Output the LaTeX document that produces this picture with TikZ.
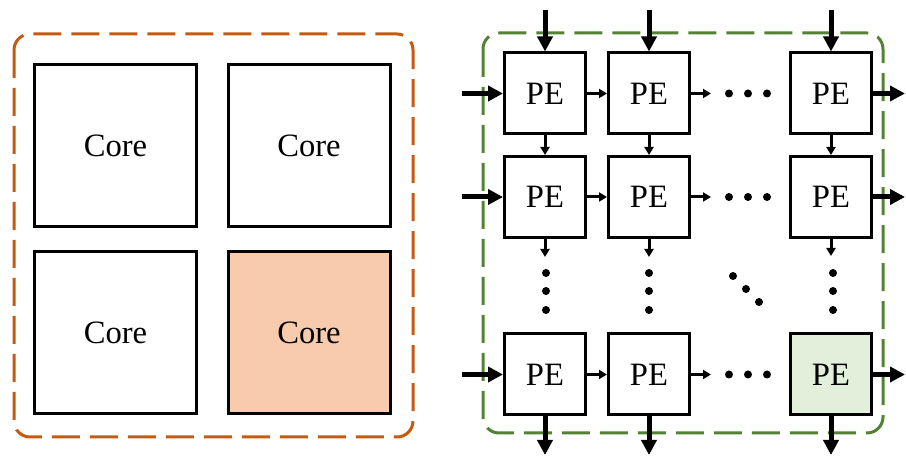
\documentclass[tikz,border=0pt]{standalone}
\usepackage{fontspec}
\setmainfont{Liberation Serif}
\usetikzlibrary{arrows.meta}

\definecolor{chiporange}{HTML}{C55A11}
\definecolor{arraygreen}{HTML}{548235}
\definecolor{corefill}{HTML}{F8CBAD}
\definecolor{pefill}{HTML}{E2EFDA}

\begin{document}
\begin{tikzpicture}[
  x=0.5pt, y=-0.5pt,
  % Processor cores (big squares, left)
  core/.style={rectangle, draw=black, line width=1.5pt, fill=#1,
               minimum size=81pt, inner sep=0pt,
               font=\fontsize{16.3}{19}\selectfont},
  core/.default=white,
  % Processing elements of the array (right)
  pe/.style={rectangle, draw=black, line width=1.5pt, fill=#1,
             minimum size=40.5pt, inner sep=0pt,
             font=\fontsize{16.3}{19}\selectfont},
  pe/.default=white,
  % Outer dashed frames
  frame/.style={draw=#1, line width=1.5pt, dash pattern=on 14pt off 5pt,
                rounded corners=8pt},
  arrow/.style={-{Triangle[length=4pt, width=4.5pt]}, line width=1.5pt},
  bigarrow/.style={-{Triangle[length=7.5pt, width=7.5pt]}, line width=2.5pt},
  dot/.style={fill=black}
]
\useasboundingbox (0,0) rectangle (906,458);

%% -- Left: multi-core chip ------------------------------------
\draw[frame=chiporange] (14,34) rectangle (413,437);

\node[core]          (c11) at (115.5,146) {Core};
\node[core]          (c12) at (309,146)   {Core};
\node[core]          (c21) at (115.5,333) {Core};
\node[core=corefill] (c22) at (309,333)   {Core};

%% -- Right: systolic array of PEs -----------------------------
\draw[frame=arraygreen] (483,33) rectangle (883,433);

% row 1
\node[pe] (p11) at (545,93.5) {PE};
\node[pe] (p12) at (649,93.5) {PE};
\node[pe] (p14) at (831,93.5) {PE};
% row 2
\node[pe] (p21) at (545,197) {PE};
\node[pe] (p22) at (649,197) {PE};
\node[pe] (p24) at (831,197) {PE};
% last row
\node[pe]        (p41) at (545,374.5) {PE};
\node[pe]        (p42) at (649,374.5) {PE};
\node[pe=pefill] (p44) at (831,374.5) {PE};

% free ends of the connectors
\coordinate (in1) at (545,10);
\coordinate (in2) at (649,10);
\coordinate (in4) at (831,10);
\coordinate (w1) at (462,93.5);
\coordinate (w2) at (462,197);
\coordinate (w4) at (462,374.5);
\coordinate (e1) at (905,93.5);
\coordinate (e2) at (905,197);
\coordinate (e4) at (905,374.5);
\coordinate (out1) at (545,455);
\coordinate (out2) at (649,455);
\coordinate (out4) at (831,455);
\coordinate (h1) at (711,93.5);
\coordinate (h2) at (711,197);
\coordinate (h4) at (711,374.5);
\coordinate (v1) at (545,257);
\coordinate (v2) at (649,257);
\coordinate (v4) at (831,256);

% inputs / outputs
\draw[bigarrow] (in1) -- (p11);
\draw[bigarrow] (in2) -- (p12);
\draw[bigarrow] (in4) -- (p14);
\draw[bigarrow] (w1) -- (p11);
\draw[bigarrow] (w2) -- (p21);
\draw[bigarrow] (w4) -- (p41);
\draw[bigarrow] (p14) -- (e1);
\draw[bigarrow] (p24) -- (e2);
\draw[bigarrow] (p44) -- (e4);
\draw[bigarrow] (p41) -- (out1);
\draw[bigarrow] (p42) -- (out2);
\draw[bigarrow] (p44) -- (out4);

% links between neighbouring PEs
\draw[arrow] (p11) -- (p12);
\draw[arrow] (p21) -- (p22);
\draw[arrow] (p41) -- (p42);
\draw[arrow] (p12) -- (h1);
\draw[arrow] (p22) -- (h2);
\draw[arrow] (p42) -- (h4);
\draw[arrow] (p11) -- (p21);
\draw[arrow] (p12) -- (p22);
\draw[arrow] (p14) -- (p24);
\draw[arrow] (p21) -- (v1);
\draw[arrow] (p22) -- (v2);
\draw[arrow] (p24) -- (v4);

% ellipsis dots
\foreach \y in {93.5,197,374.5}
  \foreach \x in {729,748,767}
    \fill[dot] (\x,\y) circle (2pt);
\foreach \x in {546,649,833}
  \foreach \y in {273,291,310}
    \fill[dot] (\x,\y) circle (2pt);
\fill[dot] (733,276) circle (2pt);
\fill[dot] (746,289) circle (2pt);
\fill[dot] (759,302) circle (2pt);

\end{tikzpicture}
\end{document}
